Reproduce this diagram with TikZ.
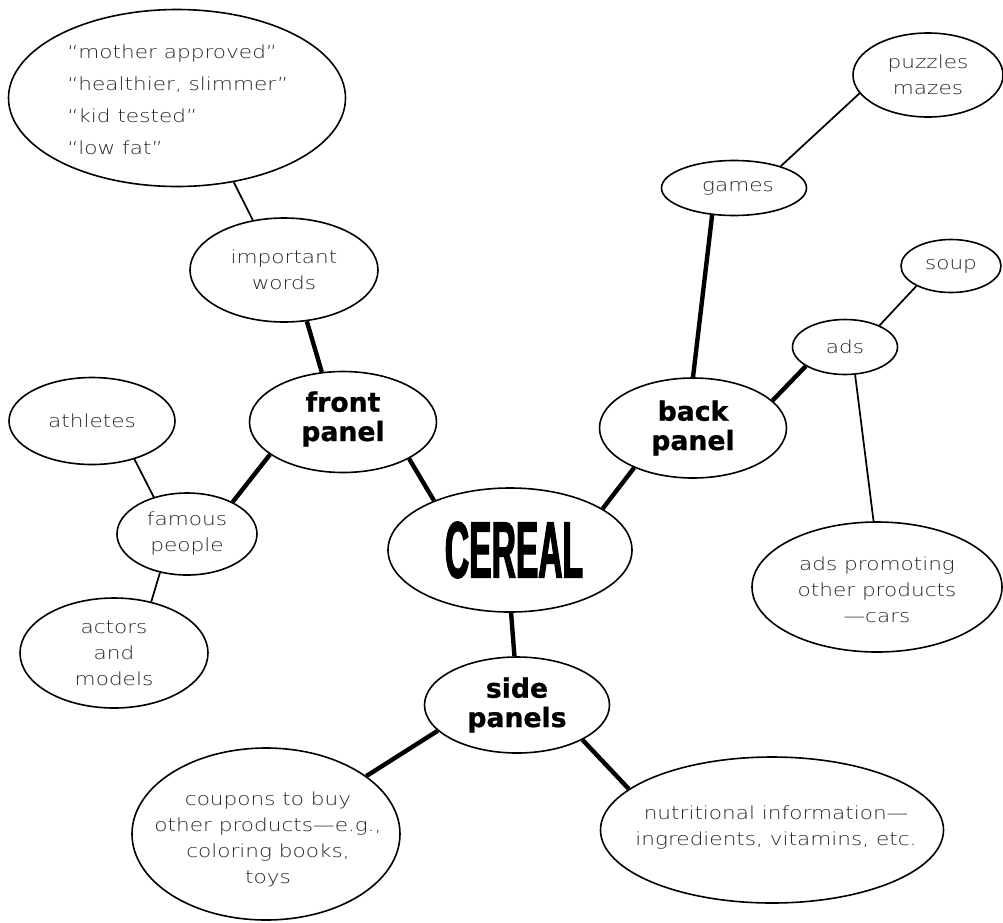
\documentclass[tikz,border=0pt]{standalone}
\usepackage{fontspec}
\usepackage{graphicx}
\usetikzlibrary{shapes.geometric}

\newfontfamily\leaffont[FakeStretch=1.2]{DejaVu Sans ExtraLight}
\newfontfamily\panelfont[FakeBold=0.8]{DejaVu Sans}
\newfontfamily\cerealfont[FakeStretch=0.42,FakeBold=1.5]{Liberation Sans}

\tikzset{
  bubble/.style={draw, ellipse, line width=1.2pt, inner sep=0pt},
  leaf/.style={font=\leaffont\fontsize{13.5}{19.5}\selectfont, text=black!85, align=center, inner sep=0pt},
  panel/.style={font=\panelfont\bfseries\fontsize{20}{22}\selectfont, align=center, inner sep=0pt},
  twig/.style={line width=1.3pt},
  branch/.style={line width=3.3pt}
}

\begin{document}
\begin{tikzpicture}[x=0.75pt,y=0.75pt,yscale=-1,xscale=1]
\path[use as bounding box] (0,0) rectangle (1003,922);

%Shape: Ellipse [center]
\node[bubble, minimum width=183pt, minimum height=93pt] (cereal) at (510,550) {};
%Shape: Ellipse [front]
\node[bubble, minimum width=140.25pt, minimum height=75.75pt] (front) at (343,422) {};
%Shape: Ellipse [back]
\node[bubble, minimum width=140.25pt, minimum height=75pt] (back) at (693,428) {};
%Shape: Ellipse [side]
\node[bubble, minimum width=138.75pt, minimum height=72pt] (side) at (517,705) {};
%Shape: Ellipse
\node[bubble, minimum width=252.75pt, minimum height=132.75pt] (quotes) at (177,98) {};
%Shape: Ellipse
\node[bubble, minimum width=141pt, minimum height=78pt] (words) at (284,270) {};
%Shape: Ellipse
\node[bubble, minimum width=124.5pt, minimum height=65.25pt] (athletes) at (92,421) {};
%Shape: Ellipse
\node[bubble, minimum width=105pt, minimum height=61.5pt] (famous) at (187,534) {};
%Shape: Ellipse
\node[bubble, minimum width=141pt, minimum height=82.5pt] (actors) at (114,653) {};
%Shape: Ellipse
\node[bubble, minimum width=108.75pt, minimum height=41.25pt] (games) at (734,188) {};
%Shape: Ellipse
\node[bubble, minimum width=112.5pt, minimum height=63pt] (puzzles) at (928,75) {};
%Shape: Ellipse
\node[bubble, minimum width=75pt, minimum height=39.75pt] (soup) at (951,266) {};
%Shape: Ellipse
\node[bubble, minimum width=78.75pt, minimum height=41.25pt] (ads) at (845,347) {};
%Shape: Ellipse
\node[bubble, minimum width=187.5pt, minimum height=97.5pt] (promo) at (877,587) {};
%Shape: Ellipse
\node[bubble, minimum width=201pt, minimum height=129pt] (coupons) at (266,834) {};
%Shape: Ellipse
\node[bubble, minimum width=257.25pt, minimum height=109.5pt] (nutri) at (772,830) {};

%Straight Lines
\draw[branch] (words.-66) -- (front.113);
\draw[branch] (front.204) -- (famous.35);
\draw[branch] (front.-29) -- (cereal.147);
\draw[branch] (cereal.24) -- (back.214);
\draw[branch] (cereal.-89) -- (side.93);
\draw[branch] (back.90) -- (games.-129);
\draw[branch] (back.19) -- (ads.206);
\draw[branch] (side.198) -- (coupons.30);
\draw[branch] (side.-28) -- (nutri.164);
\draw[twig] (quotes.-56) -- (words.122);
\draw[twig] (famous.132) -- (athletes.-42);
\draw[twig] (famous.-125) -- (actors.54);
\draw[twig] (games.25) -- (puzzles.195);
\draw[twig] (ads.32) -- (soup.210);
\draw[twig] (ads.-70) -- (promo.93);

% Text Node
\node[font=\cerealfont\bfseries\fontsize{60}{64}\selectfont, inner sep=0pt] (cereal-t) at (514,550) {CEREAL};
% Text Node
\node[panel] (front-t) at (343,419) {front\\panel};
% Text Node
\node[panel] (back-t) at (693,428) {back\\panel};
% Text Node
\node[panel] (side-t) at (517,705) {side\\panels};
% Text Node
\node[leaf, align=left, anchor=west, font=\leaffont\fontsize{13.5}{24}\selectfont] (quotes-t) at (67,100) {“mother approved”\\“healthier, slimmer”\\“kid tested”\\“low fat”};
% Text Node
\node[leaf] (words-t) at (284,270) {important\\words};
% Text Node
\node[leaf] (athletes-t) at (92,421) {athletes};
% Text Node
\node[leaf] (famous-t) at (187,534) {famous\\people};
% Text Node
\node[leaf] (actors-t) at (114,653) {actors\\and\\models};
% Text Node
\node[leaf] (games-t) at (738,188) {games};
% Text Node
\node[leaf] (puzzles-t) at (928,75) {puzzles\\mazes};
% Text Node
\node[leaf] (soup-t) at (951,266) {soup};
% Text Node
\node[leaf] (ads-t) at (845,347) {ads};
% Text Node
\node[leaf] (promo-t) at (877,590) {ads promoting\\other products\\—cars};
% Text Node
\node[leaf] (coupons-t) at (268,839) {coupons to buy\\other products—e.g.,\\coloring books,\\toys};
% Text Node
\node[leaf] (nutri-t) at (776,828) {nutritional information—\\ingredients, vitamins, etc.};

\end{tikzpicture}
\end{document}
